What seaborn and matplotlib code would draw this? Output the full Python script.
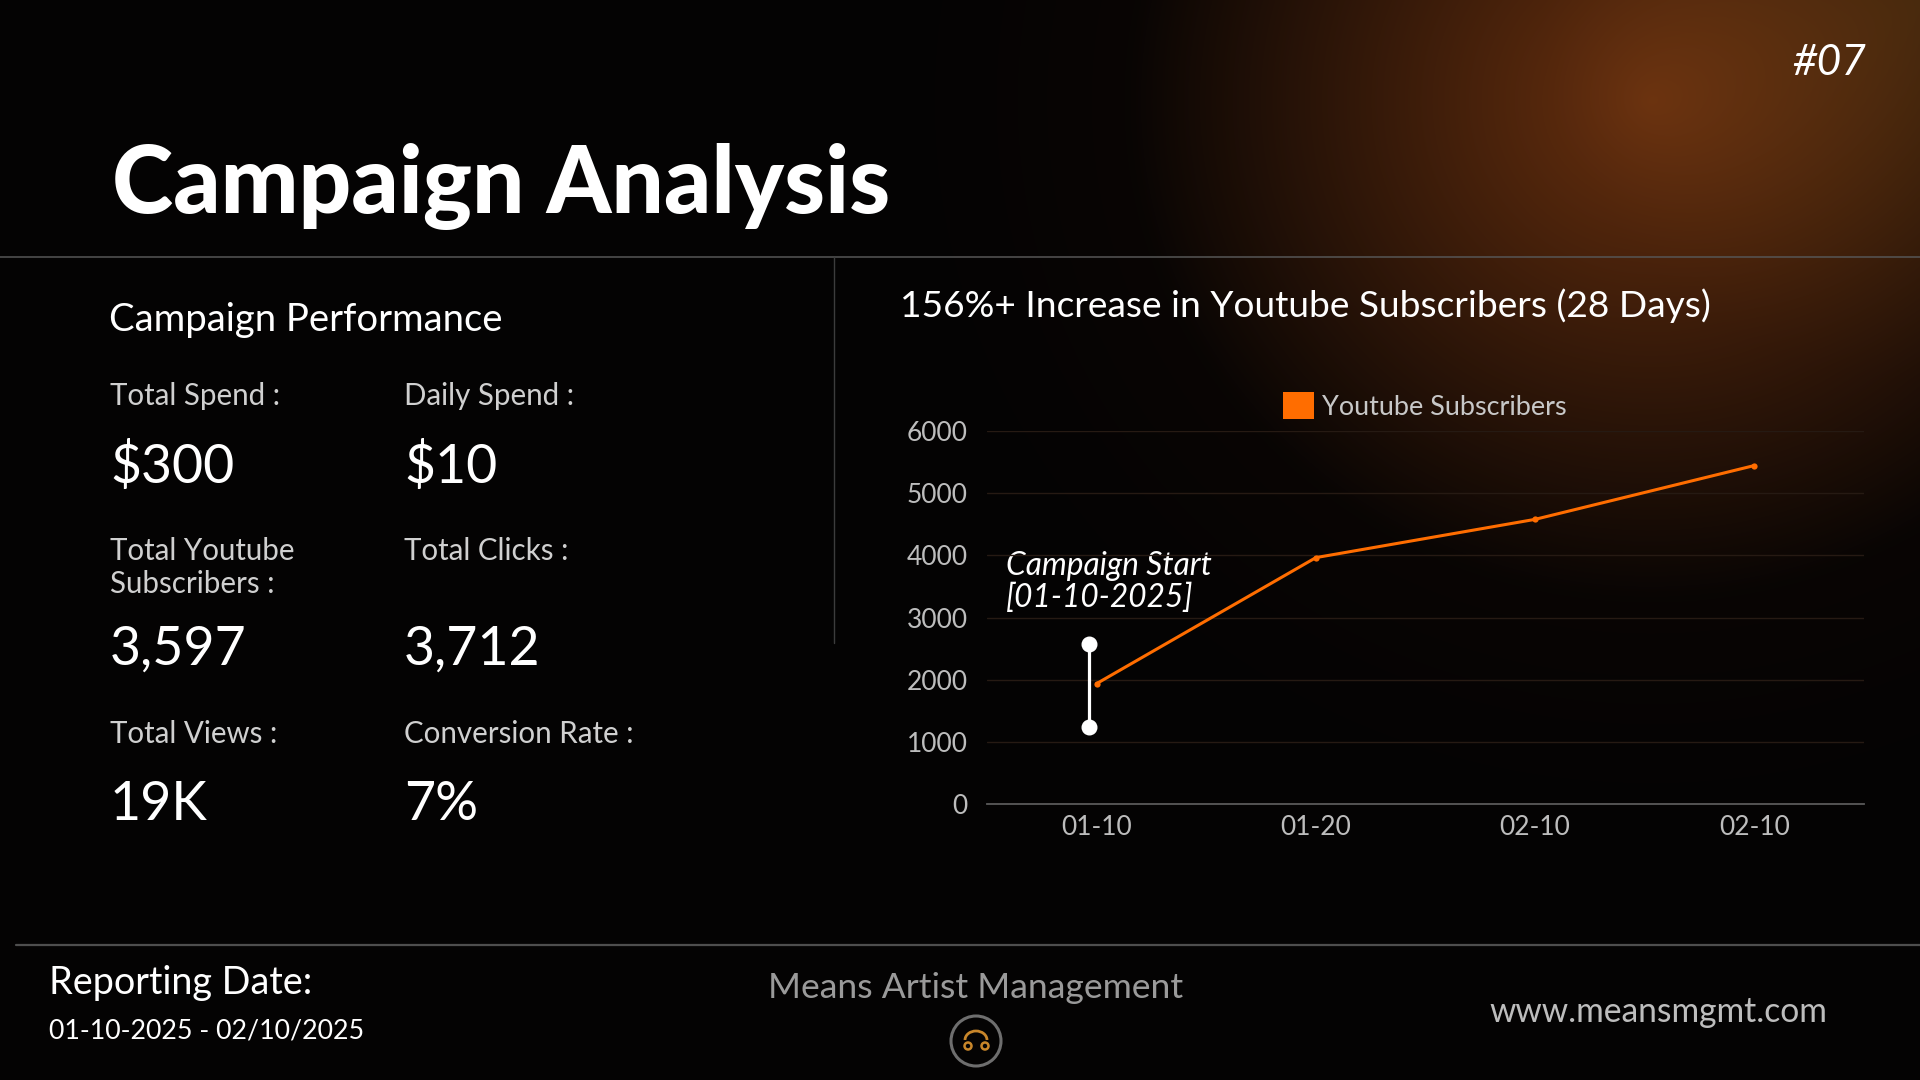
import numpy as np
import matplotlib
matplotlib.use("Agg")
import matplotlib.pyplot as plt
import seaborn as sns
from matplotlib.patches import Patch, Circle, Arc

# ---------------- data ----------------
dates = ["01-10", "01-20", "02-10", "02-10"]
subscribers = [1940, 3965, 4580, 5445]
campaign_start_span = [1250, 2570]
y_ticks = [0, 1000, 2000, 3000, 4000, 5000, 6000]
series_name = "Youtube Subscribers"
chart_title = "156%+ Increase in Youtube Subscribers (28 Days)"
annotation_lines = ["Campaign Start", "[01-10-2025]"]

kpi_labels = [["Total Spend :"], ["Daily Spend :"],
              ["Total Youtube", "Subscribers :"], ["Total Clicks :"],
              ["Total Views :"], ["Conversion Rate :"]]
kpi_values = ["$300", "$10", "3,597", "3,712", "19K", "7%"]

page_title = "Campaign Analysis"
section_title = "Campaign Performance"
page_number = "#07"
footer_left = ["Reporting Date:", "01-10-2025 - 02/10/2025"]
footer_center = "Means Artist Management"
footer_right = "www.meansmgmt.com"

# ---------------- style ----------------
ORANGE = "#ff6d00"
sns.set_theme(style="dark")
plt.rcParams["font.family"] = ["Lato", "DejaVu Sans"]

W, H = 1920, 1080
fig = plt.figure(figsize=(19.2, 10.8), dpi=100, facecolor="#040303")
bg = fig.add_axes([0, 0, 1, 1])
bg.axis("off")

# background glow
yy, xx = np.mgrid[0:H:2, 0:W:2].astype(float)
d = np.hypot(xx - 1650, (yy - 100) * 1.05)
t1 = np.clip(1 - d / 520, 0, 1) ** 0.95
t2 = np.clip(1 - d / 830, 0, 1) ** 1.6
dc = np.hypot(xx - 1920, yy - 0)
t3 = np.clip(1 - dc / 380, 0, 1) ** 1.2
base = np.array([4, 3, 3]) / 255
img = (base
       + t1[..., None] * (np.array([76, 35, 8]) / 255)
       + t2[..., None] * (np.array([24, 10, 4]) / 255)
       + t3[..., None] * (np.array([22, 18, 5]) / 255))
img = np.clip(img, 0, 1)
bg.imshow(img, extent=[0, W, H, 0], aspect="auto", interpolation="bilinear", zorder=0)
bg.set_xlim(0, W)
bg.set_ylim(H, 0)

renderer = fig.canvas.get_renderer()


def fit(s, w, **kw):
    tt = bg.text(0, 0, s, fontsize=40, **kw)
    ww = tt.get_window_extent(renderer=renderer).width
    tt.remove()
    return 40 * w / ww


def put(x, y, s, size, **kw):
    bg.text(x, y, s, fontsize=size, va="baseline", ha=kw.pop("ha", "left"), zorder=3, **kw)


# separators
bg.plot([0, W], [257, 257], color="#565656", lw=1.1, zorder=2)
bg.plot([834, 834], [257, 643], color="#3c3c3c", lw=1.0, zorder=2)
bg.plot([16, W], [945, 945], color="#4e4e4e", lw=1.6, zorder=2)

# page title + number
put(112, 213, page_title, fit(page_title, 776, fontweight="black"),
    fontweight="black", color="white")
put(1792, 75, page_number, fit(page_number, 74, style="italic"),
    style="italic", color="white")

# left panel
put(109, 331, section_title, fit(section_title, 393), color="white")

label_targets = [("Total Spend :", 174), ("Daily Spend :", 171), ("Total Youtube", 185),
                 ("Subscribers :", 168), ("Total Clicks :", 164), ("Total Views :", 162),
                 ("Conversion Rate :", 226)]
label_size = float(np.median([fit(s, w) for s, w in label_targets]))
value_targets = [("$300", 122), ("$10", 91), ("3,597", 137), ("3,712", 138),
                 ("19K", 97.5), ("7%", 82)]
value_size = float(np.median([fit(s, w) for s, w in value_targets]))

col_x = [110, 404]
label_base = [405, 560, 743]
value_base = [483, 665, 820]
for i, (lab, val) in enumerate(zip(kpi_labels, kpi_values)):
    r, c = divmod(i, 2)
    for j, line in enumerate(lab):
        put(col_x[c], label_base[r] + 33 * j, line, label_size, color="#d0d0d0")
    put(col_x[c], value_base[r], val, value_size, color="white")

# chart title
put(900, 317, chart_title, fit(chart_title, 809), color="white")

tick_size = float(np.mean([fit("6000", 68), fit("01-10", 63)]))
legend_size = fit(series_name, 245)

# ---------------- chart ----------------
ax = fig.add_axes([987 / W, 1 - 804.3 / H, 877 / W, (804.3 - 431) / H])
ax.set_facecolor("none")
xpos = np.arange(len(dates))
sns.lineplot(x=xpos, y=subscribers, ax=ax, color=ORANGE, lw=2.2, marker="o",
             markersize=4.5, markeredgewidth=0, zorder=4, legend=False)
ax.plot([xpos[0] - 0.035] * 2, campaign_start_span, color="white", lw=2.3,
        marker="o", ms=10.5, clip_on=False, zorder=5)

ax.set_xlim(-0.5, len(dates) - 0.5)
ax.set_ylim(y_ticks[0], y_ticks[-1])
ax.set_yticks(y_ticks)
ax.set_xticks(xpos)
ax.set_xticklabels(dates)
ax.set_xlabel("")
ax.set_ylabel("")
ax.grid(False)
ax.yaxis.grid(True, color="#261a13", lw=1.0)
for side in ["top", "right", "left"]:
    ax.spines[side].set_visible(False)
ax.spines["bottom"].set_color("#5a5a5a")
ax.spines["bottom"].set_linewidth(1.3)
ax.tick_params(axis="both", length=0, labelcolor="#bdbdbd", labelsize=tick_size)
ax.tick_params(axis="y", pad=14)
ax.tick_params(axis="x", pad=8)

leg = ax.legend(handles=[Patch(facecolor=ORANGE, edgecolor="none", label=series_name)],
                loc="center left", bbox_to_anchor=(1283 / W, 1 - 406 / H),
                bbox_transform=fig.transFigure, frameon=False, fontsize=legend_size,
                handlelength=1.15, handleheight=1.15, handletextpad=0.3,
                borderpad=0, borderaxespad=0)
for tx in leg.get_texts():
    tx.set_color("#c8c8c8")

# annotation
ann_size = fit(annotation_lines[0], 206, style="italic")
put(1006, 575, annotation_lines[0], ann_size, style="italic", color="white")
put(1006, 607, annotation_lines[1], ann_size, style="italic", color="white")

# ---------------- footer ----------------
put(49, 994, footer_left[0], fit(footer_left[0], 263), color="white")
put(49, 1038, footer_left[1], fit(footer_left[1], 316), color="white")
put(976, 998, footer_center, fit(footer_center, 414), ha="center", color="#9a9a9a")
put(1489, 1022, footer_right, fit(footer_right, 338), color="#bdbdbd")

# logo
bg.add_patch(Circle((976, 1041), 25, fill=False, ec="#6e6e6e", lw=2.2, zorder=3))
gold = "#c8862a"
bg.add_patch(Arc((976, 1040), 22, 18, theta1=180, theta2=360, ec=gold, lw=2.0, zorder=3))
bg.add_patch(Circle((968, 1046), 3.5, fill=False, ec=gold, lw=1.8, zorder=3))
bg.add_patch(Circle((985, 1046), 3.5, fill=False, ec=gold, lw=1.8, zorder=3))

fig.savefig("out.png", dpi=100, facecolor=fig.get_facecolor())
